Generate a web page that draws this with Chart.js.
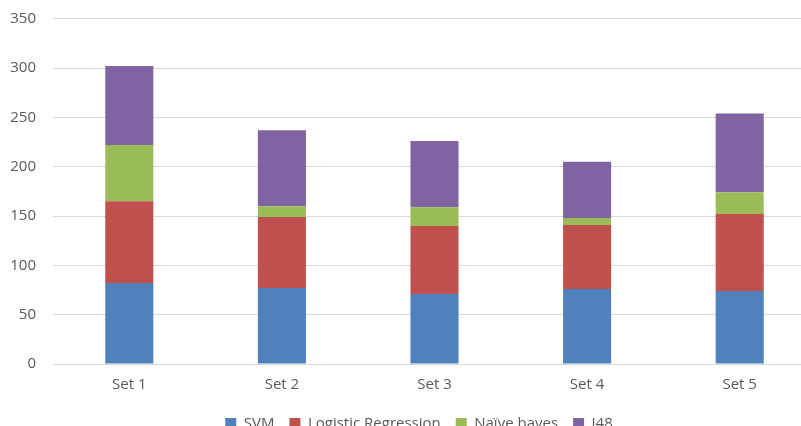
<!DOCTYPE html>
<html>
<head>
<meta charset="utf-8">
<script src="https://cdn.jsdelivr.net/npm/chart.js@4"></script>
<style>
  html, body { margin: 0; padding: 0; background: #fff; overflow: hidden; }
  #wrap { position: relative; width: 816px; height: 441px; }
</style>
</head>
<body>
<div id="wrap"><canvas id="c"></canvas></div>
<script>
const categories = ['Set 1', 'Set 2', 'Set 3', 'Set 4', 'Set 5'];
const svm        = [82, 77, 71, 76, 74];
const logistic   = [83, 72, 69, 65, 78];
const naiveBayes = [57, 11, 19, 7, 22];
const j48        = [80, 77, 67, 57, 80];
const yTicks     = [0, 50, 100, 150, 200, 250, 300, 350];

const FONT = "'Open Sans', 'Liberation Sans', sans-serif";
const TEXT = '#595959';

function series(label, data, color) {
  return {
    label, data,
    backgroundColor: color,
    borderWidth: 0,
    barPercentage: 0.315,
    categoryPercentage: 1.0
  };
}

// nudge the legend row a little to the right of the canvas centre
const legendShift = {
  id: 'legendShift',
  afterLayout(chart) {
    if (chart.legend) chart.legend.left += 22;
  }
};

new Chart(document.getElementById('c'), {
  type: 'bar',
  data: {
    labels: categories,
    datasets: [
      series('SVM', svm, '#4F81BD'),
      series('Logistic Regression', logistic, '#C0504D'),
      series('Naïve bayes', naiveBayes, '#9BBB59'),
      series('J48', j48, '#8064A2')
    ]
  },
  plugins: [legendShift],
  options: {
    responsive: true,
    maintainAspectRatio: false,
    animation: false,
    layout: { padding: 0 },
    plugins: {
      tooltip: { enabled: false },
      legend: {
        position: 'bottom',
        align: 'center',
        labels: {
          boxWidth: 11,
          boxHeight: 11,
          padding: 15,
          color: TEXT,
          font: { family: FONT, size: 15 }
        }
      }
    },
    scales: {
      x: {
        stacked: true,
        afterFit: (scale) => { scale.height = 37; },
        grid: { display: false, drawTicks: false },
        border: { display: true, color: '#d9d9d9', width: 1 },
        ticks: { color: TEXT, padding: 12, font: { family: FONT, size: 15 } }
      },
      y: {
        stacked: true,
        min: 0,
        max: 350,
        afterBuildTicks: (scale) => { scale.ticks = yTicks.map(v => ({ value: v })); },
        afterFit: (scale) => {
          scale.width = 53;
          scale.paddingTop = 18.7;
          scale.paddingBottom = 9;
        },
        grid: { color: '#d9d9d9', lineWidth: 1, drawTicks: false },
        border: { display: false },
        ticks: { color: TEXT, padding: 17, font: { family: FONT, size: 15 } }
      }
    }
  }
});
</script>
</body>
</html>
